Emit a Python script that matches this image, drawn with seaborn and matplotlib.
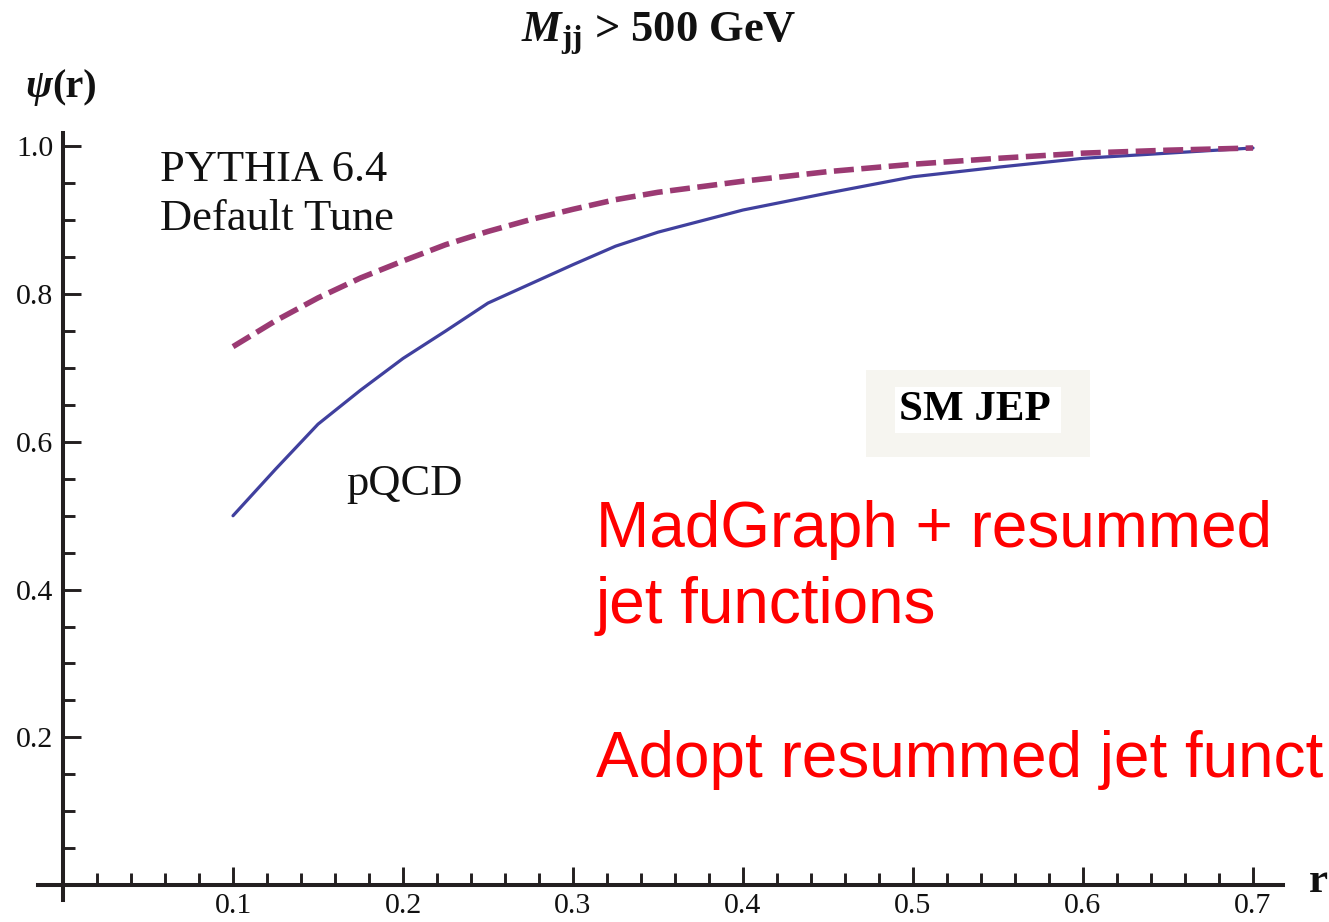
import numpy as np
import matplotlib
matplotlib.use("Agg")
import matplotlib.pyplot as plt
from matplotlib.ticker import FixedLocator, FixedFormatter, NullFormatter
from matplotlib.patches import Rectangle
import seaborn as sns

# ---------------- data ----------------
r_values = [0.100, 0.125, 0.150, 0.175, 0.200, 0.225, 0.250, 0.275, 0.300, 0.325, 0.350,
            0.400, 0.450, 0.500, 0.550, 0.600, 0.650, 0.700]
psi_pqcd = [0.500, 0.563, 0.624, 0.670, 0.713, 0.750, 0.788, 0.814, 0.840, 0.865, 0.884,
            0.914, 0.937, 0.959, 0.972, 0.984, 0.991, 0.998]
psi_pythia = [0.729, 0.764, 0.795, 0.822, 0.845, 0.867, 0.885, 0.901, 0.915, 0.928, 0.938,
              0.953, 0.966, 0.976, 0.984, 0.991, 0.995, 0.998]

x_major = [0.1, 0.2, 0.3, 0.4, 0.5, 0.6, 0.7]
x_major_labels = ["0.1", "0.2", "0.3", "0.4", "0.5", "0.6", "0.7"]
y_major = [0.2, 0.4, 0.6, 0.8, 1.0]
y_major_labels = ["0.2", "0.4", "0.6", "0.8", "1.0"]

title_text = r"$M_{\mathbf{jj}}$ > 500 GeV"
pythia_label = ["PYTHIA 6.4", "Default Tune"]
pqcd_label = "pQCD"
box_label = "SM JEP"
red_lines = ["MadGraph + resummed", "jet functions", "Adopt resummed jet funct"]

# ---------------- style ----------------
sns.set_style("white")
plt.rcParams['font.family'] = ['Liberation Serif', 'DejaVu Serif']
plt.rcParams['mathtext.fontset'] = 'custom'
plt.rcParams['mathtext.rm'] = 'Liberation Serif:bold'
plt.rcParams['mathtext.it'] = 'Liberation Serif:italic:bold'
plt.rcParams['mathtext.bf'] = 'Liberation Serif:bold'

W, H = 1329, 922
fig = plt.figure(figsize=(W / 100, H / 100), dpi=100)
fig.patch.set_facecolor("white")
ax = fig.add_axes([0, 0, 1, 1])
ax.set_facecolor("white")

def fx(px):
    return px / W

def fy(py):
    return 1 - py / H

# curves
sns.lineplot(x=r_values, y=psi_pqcd, ax=ax, color="#40409e", linewidth=2.3)
sns.lineplot(x=r_values, y=psi_pythia, ax=ax, color="#9b3a73", linewidth=4.0,
             linestyle=(0, (3.6, 1.35)), dash_capstyle="butt")

# axis mapping (pixel-calibrated)
x0px, xs = 63, 1700.0
y0px, ys = 885, 738.5
ax.set_xlim(-x0px / xs, (W - x0px) / xs)
ax.set_ylim((y0px - H) / ys, y0px / ys)
ax.set_xlabel("")
ax.set_ylabel("")

axis_color = "#231f20"
for s in ["top", "right"]:
    ax.spines[s].set_visible(False)
ax.spines["left"].set_position(("data", 0))
ax.spines["bottom"].set_position(("data", 0))
ax.spines["left"].set_bounds(-0.0203, 1.018)
ax.spines["bottom"].set_bounds(-0.0147, 0.7176)
for s in ["left", "bottom"]:
    ax.spines[s].set_linewidth(2.9)
    ax.spines[s].set_color(axis_color)

x_minor = [round(v, 2) for v in np.arange(0.02, 0.70, 0.02) if round(v * 100) % 10 != 0]
y_minor = [round(v, 2) for v in np.arange(0.05, 1.0, 0.05) if round(v * 100) % 20 != 0]
ax.xaxis.set_major_locator(FixedLocator(x_major))
ax.xaxis.set_major_formatter(FixedFormatter(x_major_labels))
ax.xaxis.set_minor_locator(FixedLocator(x_minor))
ax.xaxis.set_minor_formatter(NullFormatter())
ax.yaxis.set_major_locator(FixedLocator(y_major))
ax.yaxis.set_major_formatter(FixedFormatter(y_major_labels))
ax.yaxis.set_minor_locator(FixedLocator(y_minor))
ax.yaxis.set_minor_formatter(NullFormatter())

ax.tick_params(which="both", bottom=True, left=True, top=False, right=False)
ax.tick_params(which="major", direction="in", length=13, width=2.1, color=axis_color,
               labelsize=21.5, labelcolor="#111111")
ax.tick_params(axis="x", which="major", pad=6)
ax.tick_params(axis="y", which="major", pad=7)
ax.tick_params(which="minor", direction="in", length=8.5, width=2.1, color=axis_color)
ax.grid(False)

# ---------------- texts ----------------
fig.text(fx(659), fy(42), title_text, ha="center", va="baseline", fontsize=32,
         fontweight="bold", color="#111111")
fig.text(fx(25), fy(97), "ψ", ha="left", va="baseline", fontsize=29,
         fontstyle="italic", fontweight="bold", color="#111111")
fig.text(fx(52), fy(97), "(r)", ha="left", va="baseline", fontsize=29,
         fontweight="bold", color="#111111")
fig.text(fx(1309), fy(892), "r", ha="left", va="baseline", fontsize=31,
         fontweight="bold", color="#111111")

fig.text(fx(160), fy(181), pythia_label[0], ha="left", va="baseline", fontsize=32, color="#111111")
fig.text(fx(160), fy(230), pythia_label[1], ha="left", va="baseline", fontsize=32, color="#111111")
fig.text(fx(346), fy(495), pqcd_label, ha="left", va="baseline", fontsize=32, color="#111111")

# SM JEP box
fig.add_artist(Rectangle((fx(866), fy(457)), fx(1090) - fx(866), fy(370) - fy(457),
                         transform=fig.transFigure, facecolor="#f6f5f0", edgecolor="none"))
fig.add_artist(Rectangle((fx(895), fy(433)), fx(1061) - fx(895), fy(387) - fy(433),
                         transform=fig.transFigure, facecolor="white", edgecolor="none"))
fig.text(fx(975), fy(420), box_label, ha="center", va="baseline", fontsize=31,
         fontweight="bold", color="#000000")

# red annotation
red_kw = dict(ha="left", va="baseline", fontsize=46, color="#ff0000",
              family=["Liberation Sans", "DejaVu Sans"])
fig.text(fx(596), fy(547), red_lines[0], **red_kw)
fig.text(fx(596), fy(623), red_lines[1], **red_kw)
fig.text(fx(596), fy(777), red_lines[2], **red_kw)

fig.savefig("out.png", dpi=100, facecolor="white")
